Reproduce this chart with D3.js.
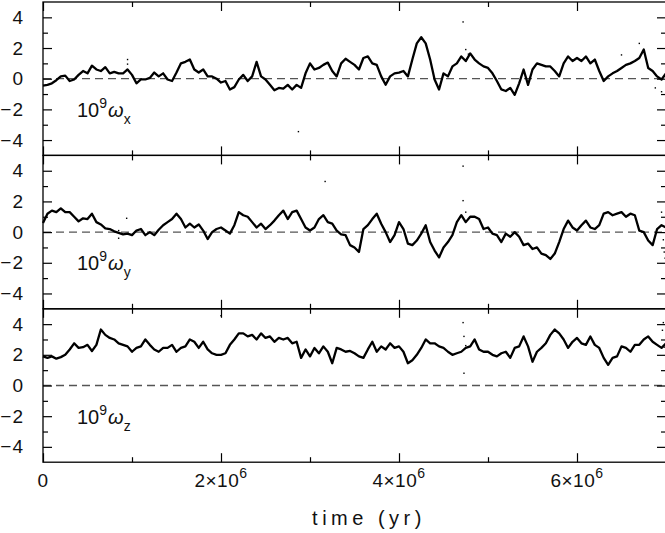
<!DOCTYPE html>
<html>
<head>
<meta charset="utf-8">
<script src="https://cdn.jsdelivr.net/npm/d3@7"></script>
<style>
  body { margin: 0; background: #fff; }
  text { font-family: "Liberation Sans", Arial, sans-serif; fill: #111; }
</style>
</head>
<body>
<div id="chart"></div>
<script>
// chart size and frame
var svgWidth = 665;
var svgHeight = 533;
var plotLeft = 43;
var plotRight = 666;   // right frame sits just off the window
var plotTop = 2;
var panelHeight = 153.4;

// data: angular velocity components, sampled every 0.05 Myr from 0 to 7 Myr
var timeStep = 0.05e6;

var omegaX = [
  -0.45, -0.4, -0.3, -0.1, 0.15, 0.2, -0.15, -0.05, 0.25, 0.5,
  0.35, 0.85, 0.6, 0.5, 0.75, 0.35, 0.45, 0.35, 0.35, 0.6,
  0.25, -0.3, -0.05, -0.05, 0.05, 0.4, 0.15, 0.35, -0.05, -0.15,
  0.4, 1.0, 1.1, 1.25, 0.6, 0.4, 0.6, 0.15, 0.15, 0,
  -0.25, -0.15, -0.7, -0.55, -0.05, 0.25, -0.15, 0.15, 1.1, 0.15,
  -0.05, -0.4, -0.75, -0.6, -0.65, -0.4, -0.7, -0.4, -0.6, 0.35,
  1.0, 0.6, 0.7, 0.9, 1.05, 0.5, 0.15, 1.0, 1.3, 1.1,
  0.9, 0.6, 1.35, 1.45, 1.0, 0.9, 0.15, -0.4, 0.15, 0.35,
  0.4, 0.5, 0.15, 1.25, 2.3, 2.7, 2.3, 1.25, -0.05, -0.7,
  0.35, 0.15, 0.8, 1.0, 1.45, 1.15, 1.65, 1.25, 1.0, 0.8,
  0.7, 0.35, -0.15, -0.7, -0.8, -0.6, -1.05, -0.3, 0.6, -0.4,
  0.6, 1.0, 0.9, 0.8, 0.8, 0.5, 0.15, 1.0, 1.45, 1.15,
  1.35, 1.15, 1.45, 1.0, 1.25, 0.5, -0.15, 0.15, 0.35, 0.5,
  0.7, 0.9, 1.0, 1.15, 1.35, 1.9, 0.7, 0.5, 0.15, -0.05,
  0.35
];

var omegaY = [
  0.6, 1.2, 1.4, 1.3, 1.55, 1.3, 1.3, 1.0, 0.7, 0.9,
  0.85, 1.2, 0.65, 0.5, 0.25, 0.2, 0.05, -0.05, -0.15, -0.1,
  -0.2, 0.1, 0.2, -0.2, 0, -0.2, 0.15, 0.45, 0.65, 0.85,
  1.2, 0.85, 0.3, 0.55, 0.3, 0.5, 0.1, -0.45, 0, 0.2,
  0.3, 0.1, -0.1, 0.45, 1.3, 1.1, 1.0, 0.65, 0.3, 0.55,
  0.2, 0.45, 0.75, 1.1, 1.4, 0.85, 1.3, 1.4, 0.85, 0.3,
  0.1, 0.3, 0.85, 1.1, 0.65, 0.55, 0.1, -0.15, -0.2, -0.85,
  -1.0, -1.3, 0.2, 0.45, 0.85, 1.2, 0.55, 0, -0.65, -0.2,
  0.65, 0.2, -0.75, -0.85, -0.55, -0.1, 0.45, -0.65, -1.2, -1.65,
  -1.0, -0.65, -0.2, 0.65, 1.1, 0.65, 1.0, 1.0, 0.85, 0.2,
  0.3, -0.1, -0.2, -0.65, -0.1, -0.3, 0, -0.3, -0.85, -0.75,
  -1.1, -1.0, -1.4, -1.5, -1.75, -1.4, -0.65, 0.2, 0.75, 0.3,
  0.1, 0.45, 0.75, 0.3, 0.2, 0.45, 1.2, 1.3, 1.1, 1.2,
  1.3, 1.0, 1.2, 1.1, 0.1, 0, -0.55, -0.85, 0.2, 0.45,
  0.3
];

var omegaZ = [
  1.9, 1.8, 1.9, 1.75, 1.85, 2.0, 2.35, 2.75, 2.45, 2.5,
  2.65, 2.25, 2.65, 3.65, 3.3, 3.1, 3.0, 2.75, 2.65, 2.55,
  2.2, 2.45, 2.55, 3.0, 2.65, 2.35, 2.2, 2.45, 2.45, 2.65,
  2.2, 2.45, 2.55, 3.0, 2.85, 2.45, 2.85, 2.35, 2.1, 2.0,
  2.0, 2.1, 2.65, 3.0, 3.4, 3.4, 3.2, 3.3, 3.0, 3.4,
  3.1, 3.2, 2.85, 3.1, 3.0, 3.1, 2.75, 2.85, 1.8, 2.35,
  1.9, 2.45, 2.1, 2.55, 2.2, 1.45, 2.45, 2.35, 2.2, 2.25,
  2.1, 1.9, 1.8, 2.35, 2.85, 2.2, 2.55, 2.35, 2.75, 2.45,
  2.55, 2.2, 1.45, 1.65, 2.0, 2.45, 3.0, 2.75, 2.75, 2.55,
  2.45, 2.2, 2.0, 2.1, 2.2, 2.45, 2.55, 3.0, 2.35, 2.2,
  2.2, 2.0, 1.9, 2.1, 2.2, 1.8, 2.45, 2.55, 3.2, 2.55,
  1.55, 2.2, 2.45, 2.75, 3.3, 3.65, 3.4, 3.0, 2.45, 2.85,
  3.1, 2.75, 2.65, 3.2, 2.65, 2.45, 1.8, 1.35, 1.8, 1.9,
  2.55, 2.45, 2.2, 2.65, 2.65, 3.0, 3.2, 2.85, 2.65, 2.45,
  2.75
];

// stray points around the curves: [time in Myr, value]
var dotsX = [[0.95, 1.25], [0.95, 0.95], [2.87, -3.45], [4.72, 3.7], [4.75, 1.9],
  [4.78, 1.6], [6.5, 1.55], [6.7, 2.3], [6.88, -0.6], [6.95, -0.85]];
var dotsY = [[0.94, 0.9], [0.85, 0.1], [0.85, -0.4], [3.17, 3.3], [4.72, 4.3],
  [4.72, 2.05], [4.75, 1.3], [6.95, 1.3], [6.97, -0.5], [6.98, -1.3], [6.99, -1.7]];
var dotsZ = [[2.0, 4.55], [4.72, 4.1], [4.73, 3.2], [4.75, 2.6], [4.73, 0.8],
  [6.96, 3.6], [6.97, 4.1], [6.98, 2.5]];

var panelNames = ["x", "y", "z"];
var yMajorTicks = [-4, -2, 0, 2, 4];
var yMinorTicks = [-3, -1, 1, 3];
var xMajorTicks = [0, 2e6, 4e6, 6e6];
var xMinorTicks = [1e6, 3e6, 5e6];
var xTickLabels = ["0", "2×10", "4×10", "6×10"];

var panels = [
  {name: panelNames[0], values: omegaX, dots: dotsX},
  {name: panelNames[1], values: omegaY, dots: dotsY},
  {name: panelNames[2], values: omegaZ, dots: dotsZ}
];

var svg = d3.select("#chart")
  .append("svg")
  .attr("width", svgWidth)
  .attr("height", svgHeight);

var xScale = d3.scaleLinear()
  .domain([0, 7e6])
  .range([plotLeft, plotRight]);

var majorLen = 9;
var minorLen = 5;

function cleanAxis(g) {
  g.select(".domain").remove();
  g.selectAll(".tick line").attr("stroke", "#000").attr("stroke-width", 1.2);
}

panels.forEach(function(p, i) {
  var top = plotTop + i * panelHeight;
  var bottom = top + panelHeight;

  var yScale = d3.scaleLinear()
    .domain([-5, 5])
    .range([bottom, top]);

  var g = svg.append("g");

  // dashed zero line
  g.append("line")
    .attr("x1", plotLeft).attr("x2", plotRight)
    .attr("y1", yScale(0)).attr("y2", yScale(0))
    .attr("stroke", "#555")
    .attr("stroke-width", 1.3)
    .attr("stroke-dasharray", "8,5");

  // the curve
  var line = d3.line()
    .x(function(d, k) { return xScale(k * timeStep); })
    .y(function(d) { return yScale(d); });

  g.append("path")
    .attr("d", line(p.values))
    .attr("fill", "none")
    .attr("stroke", "#000")
    .attr("stroke-width", 2.3)
    .attr("stroke-linejoin", "round");

  g.selectAll(".dot")
    .data(p.dots)
    .enter()
    .append("rect")
    .attr("x", function(d) { return xScale(d[0] * 1e6) - 0.7; })
    .attr("y", function(d) { return yScale(d[1]) - 0.7; })
    .attr("width", 1.4)
    .attr("height", 1.4)
    .attr("fill", "#000");

  // left axis with labels
  g.append("g")
    .attr("transform", `translate(${plotLeft},0)`)
    .call(d3.axisLeft(yScale).tickValues(yMajorTicks).tickSize(-majorLen).tickPadding(19)
      .tickFormat(function(d) { return d < 0 ? "\u2212" + Math.abs(d) : d; }))
    .call(cleanAxis)
    .selectAll("text")
    .attr("font-size", 19)
    .attr("letter-spacing", 1)
    .attr("fill", "#111")
    .attr("font-family", "Liberation Sans, Arial, sans-serif");

  g.append("g")
    .attr("transform", `translate(${plotLeft},0)`)
    .call(d3.axisLeft(yScale).tickValues(yMinorTicks).tickSize(-minorLen).tickFormat(""))
    .call(cleanAxis);

  // right axis
  g.append("g")
    .attr("transform", `translate(${plotRight},0)`)
    .call(d3.axisRight(yScale).tickValues(yMajorTicks).tickSize(-majorLen).tickFormat(""))
    .call(cleanAxis);
  g.append("g")
    .attr("transform", `translate(${plotRight},0)`)
    .call(d3.axisRight(yScale).tickValues(yMinorTicks).tickSize(-minorLen).tickFormat(""))
    .call(cleanAxis);

  // top and bottom ticks
  g.append("g")
    .attr("transform", `translate(0,${top})`)
    .call(d3.axisTop(xScale).tickValues(xMajorTicks).tickSize(-majorLen).tickFormat(""))
    .call(cleanAxis);
  g.append("g")
    .attr("transform", `translate(0,${top})`)
    .call(d3.axisTop(xScale).tickValues(xMinorTicks).tickSize(-minorLen).tickFormat(""))
    .call(cleanAxis);
  g.append("g")
    .attr("transform", `translate(0,${bottom})`)
    .call(d3.axisBottom(xScale).tickValues(xMajorTicks).tickSize(-majorLen).tickFormat(""))
    .call(cleanAxis);
  g.append("g")
    .attr("transform", `translate(0,${bottom})`)
    .call(d3.axisBottom(xScale).tickValues(xMinorTicks).tickSize(-minorLen).tickFormat(""))
    .call(cleanAxis);

  // frame
  g.append("rect")
    .attr("x", plotLeft).attr("y", top)
    .attr("width", plotRight - plotLeft).attr("height", panelHeight)
    .attr("fill", "none")
    .attr("stroke", "#000")
    .attr("stroke-width", 1.3);

  // panel label 10^9 omega_i
  var label = g.append("text")
    .attr("x", 77)
    .attr("y", top + 115)
    .attr("font-size", 20);
  label.append("tspan").text("10");
  label.append("tspan").attr("dy", -9).attr("font-size", 14).text("9");
  label.append("tspan").attr("dy", 9).attr("font-style", "italic").attr("dx", 1).text("ω");
  label.append("tspan").attr("dy", 7).attr("font-size", 14).text(p.name);

  // x tick labels on the bottom panel
  if (i === panels.length - 1) {
    xMajorTicks.forEach(function(t, k) {
      var txt = g.append("text")
        .attr("x", xScale(t))
        .attr("y", bottom + 25)
        .attr("text-anchor", "middle")
        .attr("font-size", 19)
        .attr("letter-spacing", 0.5);
      txt.append("tspan").text(xTickLabels[k]);
      if (t !== 0) {
        txt.append("tspan").attr("dy", -9).attr("font-size", 14).text("6");
      }
    });
  }
});

// x axis title
svg.append("text")
  .attr("x", 369)
  .attr("y", 525)
  .attr("text-anchor", "middle")
  .attr("font-size", 20)
  .attr("letter-spacing", 4.5)
  .text("time (yr)");
</script>
</body>
</html>
